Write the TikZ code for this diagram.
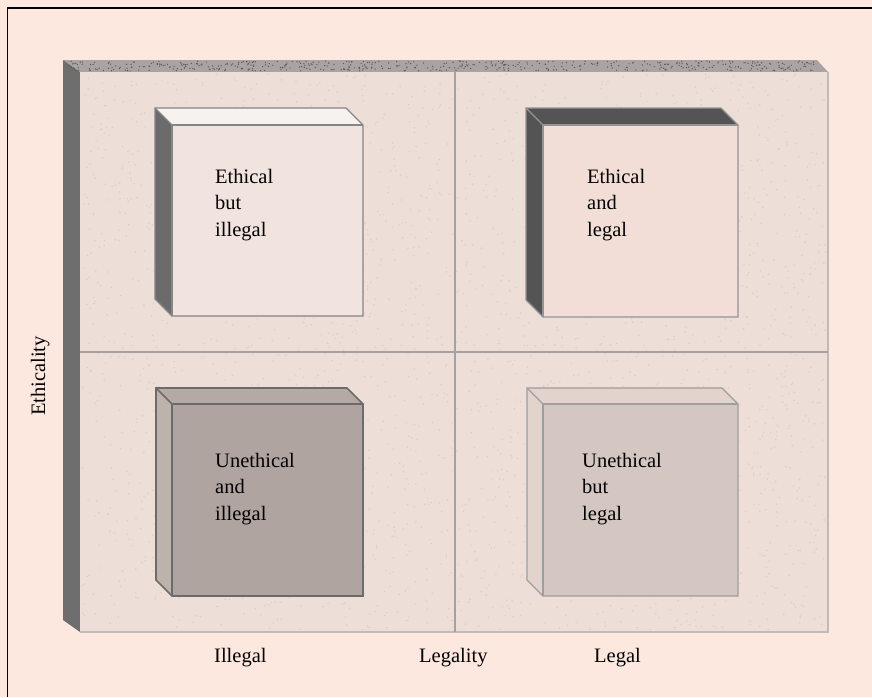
\documentclass[tikz,border=0pt]{standalone}
\usepackage{fontspec}
\setmainfont{Liberation Serif}

\definecolor{bg}{HTML}{FDE8DF}
\definecolor{panelface}{HTML}{EEDED8}
\definecolor{paneltop}{HTML}{A9A3A3}
\definecolor{panelside}{HTML}{6E6E6E}
\definecolor{paneledge}{HTML}{C2BAB8}
\definecolor{divider}{HTML}{A8A0A0}
\definecolor{grain}{HTML}{E0CCC6}
\definecolor{pinkface}{HTML}{F2DED7}

% raised block: front face (#1,#2)-(#3,#4), depth #5,
% colours: top #6, left side #7, front #8, outline #9
\newcommand{\raisedblock}[9]{%
  \fill[#6] (#1-#5,#2-#5) -- (#3-#5,#2-#5) -- (#3,#2) -- (#1,#2) -- cycle;
  \fill[#7] (#1-#5,#2-#5) -- (#1,#2) -- (#1,#4) -- (#1-#5,#4-#5) -- cycle;
  \fill[#8] (#1,#2) rectangle (#3,#4);
  \draw[#9] (#1-#5,#2-#5) -- (#3-#5,#2-#5) -- (#3,#2) -- (#3,#4) -- (#1,#4)
            -- (#1-#5,#4-#5) -- cycle;
  \draw[#9] (#1-#5,#2-#5) -- (#1,#2);
  \draw[#9] (#1,#4) -- (#1,#2) -- (#3,#2);
}

\tikzset{
  boxtext/.style={anchor=north west, inner sep=0pt, align=left,
    font=\fontsize{20.5}{26.4}\selectfont},
  axislabel/.style={inner sep=0pt, font=\fontsize{20.5}{24}\selectfont},
}

\begin{document}
\begin{tikzpicture}[x=1pt, y=-1pt]
  \useasboundingbox (0,0) rectangle (872,697);
  \fill[bg] (0,0) rectangle (872,697);
  % frame lines along the top and left edges
  \draw[black, line width=1.4pt] (7.5,697) -- (7.5,8) -- (872,8);

  % the large panel: top strip, left side, face
  \fill[paneltop] (63,60) -- (817,60) -- (828,72) -- (80,72) -- cycle;
  \fill[panelside] (63,60) -- (80,72) -- (80,632) -- (63,620) -- cycle;
  \fill[panelface] (80,72) rectangle (828,632);
  \draw[paneledge, line width=1.5pt] (80,632) -- (828,632) -- (828,72);

  % grain on the panel face
  \pgfmathsetseed{4711}
  \foreach \k in {1,...,2600} {
    \pgfmathsetmacro{\px}{82+744*rnd}
    \pgfmathsetmacro{\py}{74+556*rnd}
    \fill[grain] (\px,\py) circle (0.8pt);
  }
  % grain on the top strip
  \foreach \k in {1,...,500} {
    \pgfmathsetmacro{\px}{66+750*rnd}
    \pgfmathsetmacro{\py}{61+10*rnd}
    \fill[black!45!paneltop] (\px,\py) circle (0.7pt);
  }

  % quadrant dividers
  \draw[divider, line width=2pt] (455,72) -- (455,632);
  \draw[divider, line width=2pt] (80,352) -- (828,352);

  % the four blocks
  \raisedblock{172}{125}{363}{316}{17}{fill=white!60!panelface}{fill=black!58}{fill=white!15!panelface}{draw=black!48, line width=1.2pt}
  \raisedblock{543}{125}{738}{317}{17}{fill=black!67}{fill=black!67}{fill=pinkface}{draw=black!42, line width=1.2pt}
  \raisedblock{172}{404}{363}{596}{16}{fill=black!24!panelface}{fill=black!20!panelface}{fill=black!26!panelface}{draw=black!58, line width=1.6pt}
  \raisedblock{543}{404}{738}{596}{16}{fill=black!5!panelface}{fill=black!5!panelface}{fill=black!11!panelface}{draw=black!38, line width=1.2pt}

  % block captions
  \node[boxtext] (q1) at (215,169) {Ethical\\but\\illegal};
  \node[boxtext] (q2) at (587,169) {Ethical\\and\\legal};
  \node[boxtext] (q3) at (215,453) {Unethical\\and\\illegal};
  \node[boxtext] (q4) at (582,453) {Unethical\\but\\legal};

  % axis captions
  \node[axislabel, anchor=base west] (xlo) at (214,662) {Illegal};
  \node[axislabel, anchor=base west] (xmid) at (419,662) {Legality};
  \node[axislabel, anchor=base west] (xhi) at (594,662) {Legal};
  \node[axislabel, anchor=base, rotate=90] (yax) at (45,376) {Ethicality};
\end{tikzpicture}
\end{document}
